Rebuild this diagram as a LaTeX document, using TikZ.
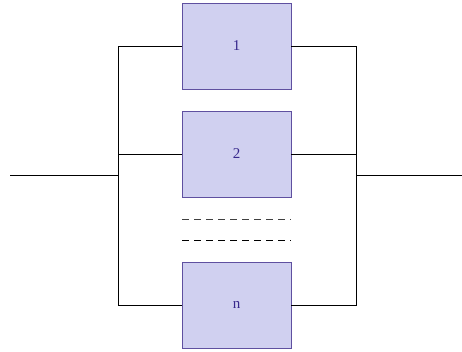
\documentclass[tikz,border=0pt]{standalone}
\usepackage{fontspec}
\setmainfont{Liberation Serif}
\definecolor{boxfill}{RGB}{208,208,240}
\definecolor{boxdraw}{RGB}{95,80,160}
\definecolor{boxtext}{RGB}{55,40,140}
\begin{document}
\begin{tikzpicture}[x=1pt,y=1pt,
  blk/.style={draw=boxdraw,fill=boxfill,text=boxtext,minimum width=109pt,minimum height=86pt,inner sep=0pt,font=\fontsize{15}{17}\selectfont,line width=0.8pt},
  wire/.style={draw=black,line width=0.7pt},
  dl/.style={draw=black!75,dash pattern=on 7pt off 5pt,line width=0.7pt}]
\useasboundingbox (0,0) rectangle (462,352);
\node[blk] (b1) at (236.5,306) {1};
\node[blk] (b2) at (236.5,198) {2};
\node[blk] (bn) at (236.5,47) {n};
\coordinate (in) at (10,176.3);
\coordinate (out) at (462,176.3);
\coordinate (lj) at (118,176.3);
\coordinate (rj) at (356,176.3);
\coordinate (lt) at (118,306);
\coordinate (lb) at (118,47);
\coordinate (rt) at (356,306);
\coordinate (rb) at (356,47);
\coordinate (d1a) at (182,133);
\coordinate (d1b) at (291,133);
\coordinate (d2a) at (182,111.5);
\coordinate (d2b) at (291,111.5);
\draw[wire] (in) -- (lj);
\draw[wire] (rj) -- (out);
\draw[wire] (b1.west) -- (lt) -- (lb) -- (bn.west);
\draw[wire] (b1.east) -- (rt) -- (rb) -- (bn.east);
\draw[wire] (b2.west) -- (b2.west -| lj);
\draw[wire] (b2.east) -- (b2.east -| rj);
\draw[dl] (d1a) -- (d1b);
\draw[dl,draw=black] (d2a) -- (d2b);
\end{tikzpicture}
\end{document}
